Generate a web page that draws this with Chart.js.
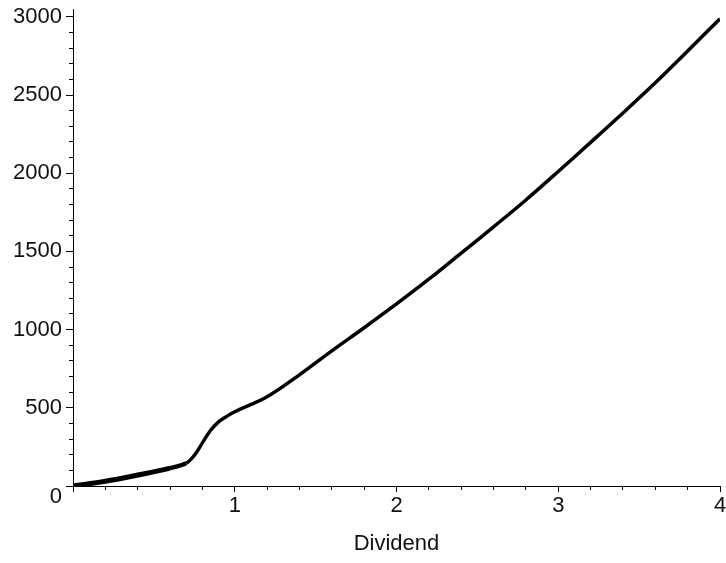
<!DOCTYPE html>
<html>
<head>
<meta charset="utf-8">
<script src="https://cdn.jsdelivr.net/npm/chart.js@4/dist/chart.umd.min.js"></script>
<style>
  html, body { margin: 0; padding: 0; background: #fff; overflow: hidden; }
  #wrap { position: relative; width: 726px; height: 563px; }
</style>
</head>
<body>
<div id="wrap"><canvas id="c"></canvas></div>
<script>
// Data
const dividend = [0, 0.2, 0.4, 0.6, 0.7, 0.75, 0.8, 0.85, 0.9, 0.95, 1.0, 1.2, 1.4, 1.6, 1.8, 2.0, 2.2, 2.4, 2.6, 2.8, 3.0, 3.2, 3.4, 3.6, 3.8, 4.0];
const value    = [0, 30, 70, 114, 146, 196, 276, 355, 410, 445, 475, 571, 711, 864, 1012, 1164, 1322, 1489, 1657, 1829, 2011, 2197, 2385, 2578, 2782, 2988];
const xTickLabels = ['1', '2', '3', '4'];
const yTickLabels = ['0', '500', '1000', '1500', '2000', '2500', '3000'];
const xTitle = 'Dividend';

const points = dividend.map((d, i) => ({ x: d, y: value[i] }));
const FONT = { family: '"Liberation Sans", Arial, sans-serif', size: 22, lineHeight: 1.0 };
const isInt = v => Math.abs(v - Math.round(v)) < 1e-6;

new Chart(document.getElementById('c'), {
  type: 'line',
  data: {
    datasets: [{
      data: points,
      borderColor: '#000',
      borderWidth: 3.5,
      pointRadius: 0,
      fill: false,
      tension: 0.35,
      segment: {
        borderWidth: ctx => ctx.p0.parsed.x < 0.55 ? 5 : (ctx.p0.parsed.x < 0.65 ? 4.3 : 3.5)
      }
    }]
  },
  options: {
    responsive: true,
    maintainAspectRatio: false,
    animation: false,
    events: [],
    layout: { padding: { top: 9, right: 6, left: 0, bottom: 0 } },
    plugins: { legend: { display: false }, tooltip: { enabled: false } },
    scales: {
      x: {
        type: 'linear',
        min: 0, max: 4,
        border: { display: true, color: '#000', width: 1 },
        grid: {
          display: true, drawOnChartArea: false, drawTicks: true,
          tickLength: 6, tickColor: '#000', tickWidth: 1,
          tickBorderDash: ctx => (ctx.tick && isInt(ctx.tick.value)) ? [] : [3, 100]
        },
        ticks: {
          stepSize: 0.2, autoSkip: false, maxRotation: 0, minRotation: 0,
          color: '#111', font: FONT, padding: 3,
          callback: v => {
            if (!isInt(v)) return '';
            const s = String(Math.round(v));
            return xTickLabels.includes(s) ? s : '';
          }
        },
        title: { display: true, text: xTitle, color: '#111', font: FONT, padding: { top: 0, bottom: 8 } },
        afterFit: s => { s.height = 77; s.paddingLeft = 0; s.paddingRight = 0; }
      },
      y: {
        type: 'linear',
        min: 0, max: 3050,
        border: { display: true, color: '#000', width: 1 },
        grid: {
          display: true, drawOnChartArea: false, drawTicks: true,
          tickLength: 7, tickColor: '#000', tickWidth: 1,
          tickBorderDash: ctx => (ctx.tick && ctx.tick.value % 500 === 0) ? [] : [4, 3],
          tickBorderDashOffset: ctx => (ctx.tick && ctx.tick.value % 500 === 0) ? 0 : 4
        },
        ticks: {
          stepSize: 100, autoSkip: false, includeBounds: false,
          color: '#111', font: FONT, padding: 4,
          callback: v => {
            const s = String(v);
            if (!yTickLabels.includes(s)) return '';
            return s === '0' ? ['', '0'] : s;
          }
        },
        afterFit: s => { s.width = 73; s.paddingTop = 0; s.paddingBottom = 0; }
      }
    }
  }
});
</script>
</body>
</html>
